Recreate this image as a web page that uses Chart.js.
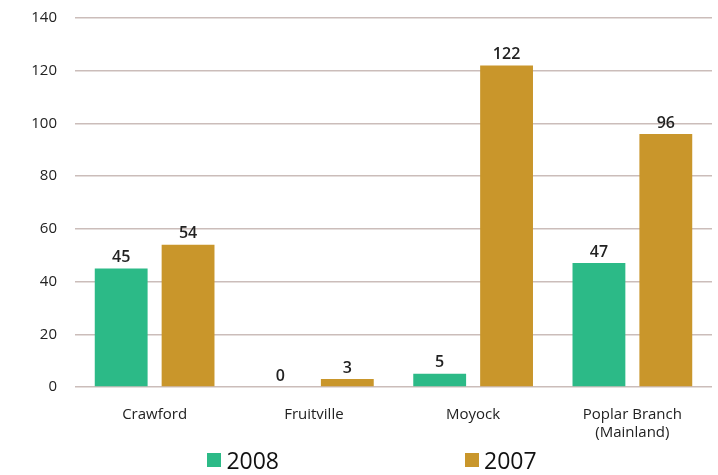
<!DOCTYPE html>
<html>
<head>
<meta charset="utf-8">
<script src="https://cdn.jsdelivr.net/npm/chart.js@4/dist/chart.umd.min.js"></script>
<style>
  html, body { margin: 0; padding: 0; background: #fff; }
  #wrap { position: relative; width: 718px; height: 475px; }
  #legend {
    position: absolute; left: 0; top: 444px; width: 718px; padding-left: 26px; box-sizing: border-box;
    display: flex; justify-content: center; gap: 186px;
    font-family: "Open Sans", sans-serif; font-size: 23px; color: #111;
  }
  #legend .item { display: flex; align-items: center; }
  #legend .box { width: 14px; height: 14px; margin-right: 5px; }
</style>
</head>
<body>
<div id="wrap">
  <canvas id="chart" width="718" height="475"></canvas>
  <div id="legend"></div>
</div>
<script>
const branches = ["Crawford", "Fruitville", "Moyock", ["Poplar Branch", "(Mainland)"]];
const seriesNames = ["2008", "2007"];
const values2008 = [45, 0, 5, 47];
const values2007 = [54, 3, 122, 96];
const colors = ["#2cba87", "#c9962b"];
const yTicks = { min: 0, max: 140, step: 20 };

// value labels above each bar
const barLabels = {
  id: 'barLabels',
  afterDatasetsDraw(chart) {
    const ctx = chart.ctx;
    ctx.save();
    ctx.font = '600 16px "Open Sans", sans-serif';
    ctx.fillStyle = '#222';
    ctx.textAlign = 'center';
    ctx.textBaseline = 'bottom';
    chart.data.datasets.forEach((ds, i) => {
      chart.getDatasetMeta(i).data.forEach((bar, j) => {
        ctx.fillText(ds.data[j], bar.x, bar.y - 3);
      });
    });
    ctx.restore();
  }
};

const ctx = document.getElementById('chart');
const chart = new Chart(ctx, {
  type: 'bar',
  data: {
    labels: branches,
    datasets: [
      { label: seriesNames[0], data: values2008, backgroundColor: colors[0] },
      { label: seriesNames[1], data: values2007, backgroundColor: colors[1] }
    ]
  },
  options: {
    responsive: false,
    animation: false,
    categoryPercentage: 0.84,
    barPercentage: 0.79,
    layout: { padding: { top: 18, right: 6, left: 0, bottom: 0 } },
    plugins: {
      legend: { display: false },
      tooltip: { enabled: false }
    },
    scales: {
      x: {
        grid: { display: false, drawTicks: false },
        border: { display: false },
        ticks: { padding: 19, color: '#222', font: { family: 'Open Sans', size: 15 } },
        afterFit(s) { s.height = 88; }
      },
      y: {
        min: yTicks.min,
        max: yTicks.max,
        ticks: { stepSize: yTicks.step, padding: 18, color: '#222', font: { family: 'Open Sans', size: 15 } },
        grid: { color: '#cbbdba', lineWidth: 1.5, drawTicks: false },
        border: { display: false },
        afterFit(s) { s.width = 75; s.paddingTop = 0; s.paddingBottom = 0; }
      }
    }
  },
  plugins: [barLabels]
});

// legend built from the datasets
const legend = document.getElementById('legend');
chart.data.datasets.forEach(ds => {
  const item = document.createElement('div');
  item.className = 'item';
  const box = document.createElement('span');
  box.className = 'box';
  box.style.background = ds.backgroundColor;
  const txt = document.createElement('span');
  txt.textContent = ds.label;
  item.appendChild(box);
  item.appendChild(txt);
  legend.appendChild(item);
});
</script>
</body>
</html>
